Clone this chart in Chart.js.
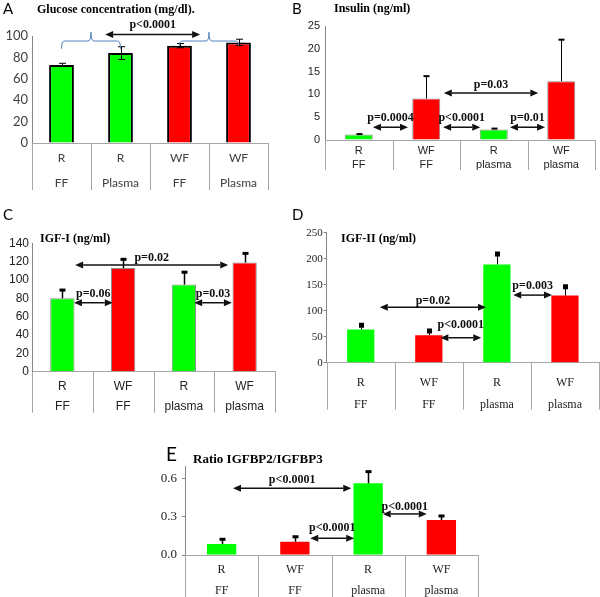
<!DOCTYPE html>
<html>
<head>
<meta charset="utf-8">
<script src="https://cdn.jsdelivr.net/npm/chart.js@4.4.1/dist/chart.umd.min.js"></script>
<style>
  body { margin: 0; background: #fff; }
  #page { position: relative; width: 600px; height: 597px; overflow: hidden; background: #fff; }
  canvas { position: absolute; }
  .letter { position: absolute; font-family: Lato, sans-serif; font-size: 15px; line-height: 15px; color: #000; }
  .title { position: absolute; font-family: "Liberation Serif", serif; font-weight: bold; font-size: 12px; line-height: 12px; white-space: nowrap; color: #000; }
</style>
</head>
<body>
<div id="page">
  <canvas id="chartA" width="300" height="195" style="left:0;top:0"></canvas>
  <canvas id="chartB" width="300" height="175" style="left:300px;top:0"></canvas>
  <canvas id="chartC" width="300" height="215" style="left:0;top:200px"></canvas>
  <canvas id="chartD" width="300" height="215" style="left:300px;top:200px"></canvas>
  <canvas id="chartE" width="330" height="147" style="left:150px;top:450px"></canvas>

  <div class="letter" style="left:3px;top:1px">A</div>
  <div class="letter" style="left:292px;top:1px">B</div>
  <div class="letter" style="left:3px;top:207px">C</div>
  <div class="letter" style="left:292px;top:207px">D</div>
  <div class="letter" style="left:166px;top:444px;font-size:19px;line-height:19px">E</div>

  <div class="title" style="left:37px;top:3px">Glucose concentration (mg/dl).</div>
  <div class="title" style="left:334px;top:2px">Insulin (ng/ml)</div>
  <div class="title" style="left:40px;top:232px">IGF-I (ng/ml)</div>
  <div class="title" style="left:341px;top:232px">IGF-II (ng/ml)</div>
  <div class="title" style="left:193px;top:452px;font-size:13px;line-height:13px">Ratio IGFBP2/IGFBP3</div>
</div>
<script>
// ---- données ----
const glucoseLabels = [['R', 'FF'], ['R', 'Plasma'], ['WF', 'FF'], ['WF', 'Plasma']];
const glucoseMeans = [73, 84, 91, 94];
const glucoseErr = [1.5, 6, 2, 3];
const glucoseArrows = [{ from: 0.74, to: 2.35, y: 101.5, ty: 110, text: 'p<0.0001' }];
const glucoseBraces = [
  { from: 0, to: 1, y: 95.3, tip: 103.5, foot: 88 },
  { from: 2, to: 3, y: 95.3, tip: 103.5, foot: 91 }
];

const groupLabels = [['R', 'FF'], ['WF', 'FF'], ['R', 'plasma'], ['WF', 'plasma']];

const insulinMeans = [1.2, 9.1, 2.3, 12.9];
const insulinErrTop = [1.3, 14, 2.5, 22];
const insulinArrows = [
  { from: 0.21, to: 0.73, y: 2.8, ty: 4.8, text: 'p=0.0004' },
  { from: 1.25, to: 1.80, y: 2.8, ty: 4.8, text: 'p<0.0001' },
  { from: 2.24, to: 2.76, y: 2.8, ty: 4.8, text: 'p=0.01' },
  { from: 1.26, to: 2.66, y: 10.3, ty: 12.0, text: 'p=0.03' }
];

const igf1Means = [80, 113, 95, 119];
const igf1ErrTop = [89, 122.5, 108.5, 129];
const igf1Arrows = [
  { from: 0.19, to: 0.83, y: 75.2, ty: 84.7, text: 'p=0.06' },
  { from: 2.17, to: 2.79, y: 75.2, ty: 84.7, text: 'p=0.03' },
  { from: 0.21, to: 2.73, y: 116.3, ty: 124, text: 'p=0.02' }
];

const igf2Means = [64, 53, 189, 129];
const igf2ErrTop = [72, 61, 209, 146];
const igf2Arrows = [
  { from: 0.28, to: 1.84, y: 106.5, ty: 118.6, text: 'p=0.02' },
  { from: 1.17, to: 1.77, y: 48, ty: 72.5, text: 'p<0.0001' },
  { from: 2.24, to: 2.81, y: 130, ty: 147.5, text: 'p=0.003' }
];

const ratioMeans = [0.087, 0.105, 0.566, 0.276];
const ratioErrTop = [0.124, 0.144, 0.658, 0.308];
const ratioTicks = [0, 0.3, 0.6];
const ratioArrows = [
  { from: 0.155, to: 1.77, y: 0.526, ty: 0.592, text: 'p<0.0001' },
  { from: 1.21, to: 1.81, y: 0.132, ty: 0.215, text: 'p<0.0001' },
  { from: 2.20, to: 2.80, y: 0.324, ty: 0.379, text: 'p<0.0001' }
];

const GREEN = '#00ff00';
const RED = '#ff0000';

// flèche double
function drawArrow(ctx, x1, x2, y, head, halfH) {
  ctx.beginPath();
  ctx.moveTo(x1 + head, y);
  ctx.lineTo(x2 - head, y);
  ctx.stroke();
  ctx.beginPath();
  ctx.moveTo(x1, y); ctx.lineTo(x1 + head, y - halfH); ctx.lineTo(x1 + head, y + halfH);
  ctx.closePath(); ctx.fill();
  ctx.beginPath();
  ctx.moveTo(x2, y); ctx.lineTo(x2 - head, y - halfH); ctx.lineTo(x2 - head, y + halfH);
  ctx.closePath(); ctx.fill();
}

// accolade (graphique A)
function drawBrace(ctx, x1, x2, y, tip, foot) {
  const mid = (x1 + x2) / 2, r = 3;
  ctx.beginPath();
  ctx.moveTo(x1, foot);
  ctx.quadraticCurveTo(x1, y, x1 + r, y);
  ctx.lineTo(mid - r, y);
  ctx.quadraticCurveTo(mid, y, mid, tip);
  ctx.quadraticCurveTo(mid, y, mid + r, y);
  ctx.lineTo(x2 - r, y);
  ctx.quadraticCurveTo(x2, y, x2, foot);
  ctx.stroke();
}

function makeMarks(cfg) {
  return {
    id: 'marks',
    afterDatasetsDraw(chart) {
      const ctx = chart.ctx;
      const xs = chart.scales.x, ys = chart.scales.y;
      const n = chart.data.labels.length;
      const px = p => xs.getPixelForDecimal((p + 0.5) / n);
      const py = v => ys.getPixelForValue(v);
      ctx.save();

      // séparateurs des catégories sous l'axe
      ctx.strokeStyle = '#a6a6a6';
      ctx.lineWidth = 1;
      for (let i = 0; i <= n; i++) {
        const xx = Math.round(xs.getPixelForDecimal(i / n)) + 0.5;
        ctx.beginPath();
        ctx.moveTo(xx, ys.bottom);
        ctx.lineTo(xx, ys.bottom + cfg.divider);
        ctx.stroke();
      }

      // barres d'erreur
      const ds = chart.data.datasets[0];
      const meta = chart.getDatasetMeta(0);
      ctx.strokeStyle = '#000';
      ctx.fillStyle = '#000';
      ctx.lineWidth = cfg.err.width;
      meta.data.forEach((bar, i) => {
        const lo = ds.errorBars[i][0], hi = ds.errorBars[i][1];
        const x = Math.round(bar.x) + 0.5;
        ctx.beginPath();
        ctx.moveTo(x, py(lo));
        ctx.lineTo(x, py(hi));
        ctx.stroke();
        ctx.fillRect(x - cfg.err.capW / 2, py(hi) - cfg.err.capH / 2, cfg.err.capW, cfg.err.capH);
        if (cfg.err.both) ctx.fillRect(x - cfg.err.capW / 2, py(lo) - cfg.err.capH / 2, cfg.err.capW, cfg.err.capH);
      });

      // accolades
      if (cfg.braces) {
        ctx.strokeStyle = '#4f81bd';
        ctx.lineWidth = 1;
        cfg.braces.forEach(b => drawBrace(ctx, px(b.from), px(b.to), py(b.y), py(b.tip), py(b.foot)));
      }

      // flèches et valeurs p
      ctx.strokeStyle = '#111';
      ctx.fillStyle = '#111';
      ctx.lineWidth = 1.5;
      ctx.font = 'bold 12px "Liberation Serif"';
      ctx.textAlign = 'center';
      ctx.textBaseline = 'middle';
      cfg.arrows.forEach(a => {
        const x1 = px(a.from), x2 = px(a.to);
        drawArrow(ctx, x1, x2, py(a.y), 8, 3.5);
        ctx.fillText(a.text, (x1 + x2) / 2, py(a.ty));
      });
      ctx.restore();
    }
  };
}

function buildChart(id, cfg) {
  const canvas = document.getElementById(id);
  const W = canvas.width, H = canvas.height;
  const yTicks = {
    font: cfg.tickFont,
    color: cfg.textColor,
    padding: cfg.tickPad
  };
  if (cfg.step) yTicks.stepSize = cfg.step;
  if (cfg.fmt) yTicks.callback = cfg.fmt;
  const yScale = {
    min: 0,
    max: cfg.max,
    grid: { drawOnChartArea: false, drawTicks: cfg.tickLen > 0, tickLength: cfg.tickLen, color: '#868686' },
    border: { color: '#868686' },
    ticks: yTicks,
    afterFit: s => { s.width = cfg.area.left; }
  };
  if (cfg.fixedTicks) {
    yScale.afterBuildTicks = s => { s.ticks = cfg.fixedTicks.map(v => ({ value: v })); };
  }
  return new Chart(canvas, {
    type: 'bar',
    data: {
      labels: cfg.labels,
      datasets: [{
        data: cfg.means,
        backgroundColor: cfg.colors,
        borderColor: cfg.borderColor,
        borderWidth: cfg.borderWidth,
        barPercentage: cfg.barPct,
        categoryPercentage: 1,
        errorBars: cfg.errorBars
      }]
    },
    options: {
      responsive: false,
      animation: false,
      events: [],
      layout: { padding: { left: 0, top: cfg.area.top, right: W - cfg.area.right, bottom: 0 } },
      plugins: { legend: { display: false }, tooltip: { enabled: false } },
      scales: {
        x: {
          grid: { display: false },
          border: { color: '#a6a6a6' },
          ticks: { font: cfg.catFont, color: cfg.textColor, padding: cfg.catPad, maxRotation: 0, autoSkip: false },
          afterFit: s => { s.height = H - cfg.area.bottom; }
        },
        y: yScale
      }
    },
    plugins: [makeMarks(cfg)]
  });
}

// A - glucose
buildChart('chartA', {
  labels: glucoseLabels,
  means: glucoseMeans,
  errorBars: glucoseMeans.map((m, i) => [m - glucoseErr[i], m + glucoseErr[i]]),
  colors: [GREEN, GREEN, RED, RED],
  borderColor: '#000', borderWidth: 2, barPct: 0.42,
  area: { left: 32, right: 268, top: 36, bottom: 143 },
  max: 100, step: 20, tickLen: 0, tickPad: 4,
  tickFont: { family: 'Lato', size: 13 },
  catFont: { family: 'Lato', size: 12, lineHeight: '25px' }, catPad: -5.5,
  textColor: '#404040',
  divider: 47,
  err: { width: 1, capW: 7, capH: 1, both: true },
  arrows: glucoseArrows, braces: glucoseBraces
});

// B - insuline
buildChart('chartB', {
  labels: groupLabels,
  means: insulinMeans,
  errorBars: insulinMeans.map((m, i) => [m, insulinErrTop[i]]),
  colors: [GREEN, RED, GREEN, RED],
  borderColor: 'rgba(0,0,0,0.45)', borderWidth: 1, barPct: 0.415,
  area: { left: 25, right: 295, top: 26, bottom: 140 },
  max: 25, step: 5, tickLen: 0, tickPad: 5,
  tickFont: { family: 'Liberation Sans', size: 11 },
  catFont: { family: 'Liberation Sans', size: 11, lineHeight: '14px' }, catPad: -4,
  textColor: '#222',
  divider: 30,
  err: { width: 1, capW: 6, capH: 2 },
  arrows: insulinArrows
});

// C - IGF-I
buildChart('chartC', {
  labels: groupLabels,
  means: igf1Means,
  errorBars: igf1Means.map((m, i) => [m, igf1ErrTop[i]]),
  colors: [GREEN, RED, GREEN, RED],
  borderColor: 'rgba(0,0,0,0.45)', borderWidth: 1, barPct: 0.40,
  area: { left: 32, right: 275, top: 43.3, bottom: 171.7 },
  max: 140, step: 20, tickLen: 0, tickPad: 3,
  tickFont: { family: 'Liberation Sans', size: 12 },
  catFont: { family: 'Liberation Sans', size: 12, lineHeight: '20px' }, catPad: -2.7,
  textColor: '#222',
  divider: 41,
  err: { width: 1.5, capW: 6, capH: 3 },
  arrows: igf1Arrows
});

// D - IGF-II
buildChart('chartD', {
  labels: groupLabels,
  means: igf2Means,
  errorBars: igf2Means.map((m, i) => [m, igf2ErrTop[i]]),
  colors: [GREEN, RED, GREEN, RED],
  borderColor: 'rgba(0,0,0,0)', borderWidth: 0, barPct: 0.40,
  area: { left: 26.7, right: 299, top: 32.7, bottom: 162.7 },
  max: 250, step: 50, tickLen: 3, tickPad: 1,
  tickFont: { family: 'Liberation Serif', size: 11 },
  catFont: { family: 'Liberation Serif', size: 12, lineHeight: '22px' }, catPad: 1.3,
  textColor: '#222',
  divider: 47,
  err: { width: 1, capW: 5, capH: 5 },
  arrows: igf2Arrows
});

// E - ratio IGFBP2/IGFBP3
buildChart('chartE', {
  labels: groupLabels,
  means: ratioMeans,
  errorBars: ratioMeans.map((m, i) => [m, ratioErrTop[i]]),
  colors: [GREEN, RED, GREEN, RED],
  borderColor: 'rgba(0,0,0,0)', borderWidth: 0, barPct: 0.40,
  area: { left: 35, right: 328, top: 16.3, bottom: 105 },
  max: 0.7, fixedTicks: ratioTicks, fmt: v => v.toFixed(1), tickLen: 3, tickPad: 5,
  tickFont: { family: 'Liberation Serif', size: 13 },
  catFont: { family: 'Liberation Serif', size: 12, lineHeight: '21px' }, catPad: -3.5,
  textColor: '#222',
  divider: 42,
  err: { width: 1.5, capW: 6, capH: 3 },
  arrows: ratioArrows
});
</script>
</body>
</html>
